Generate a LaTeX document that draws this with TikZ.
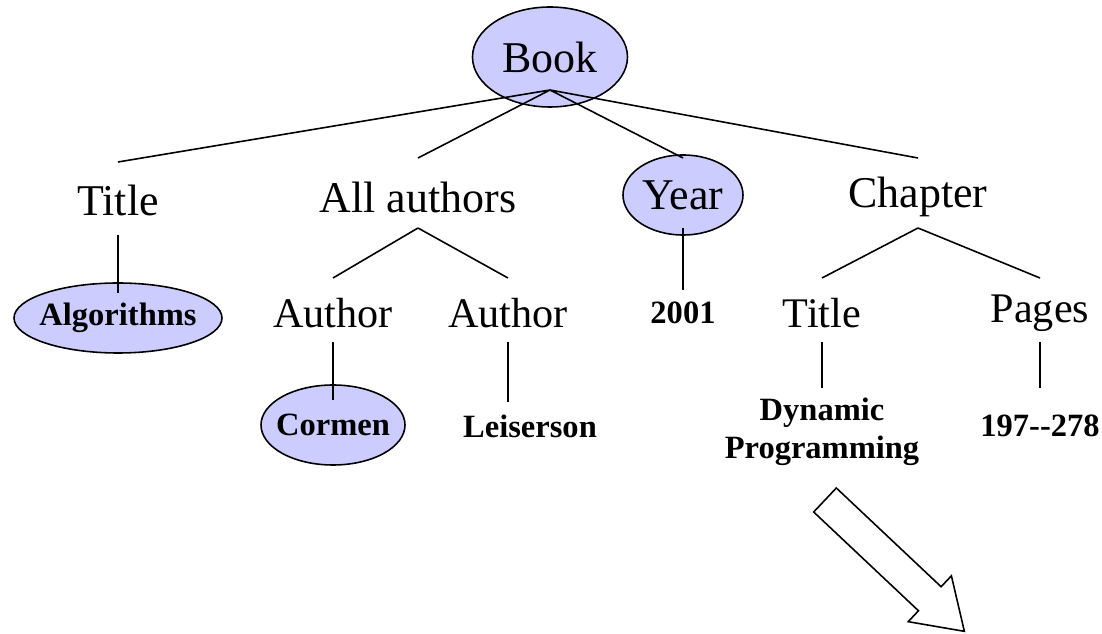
\documentclass[tikz,border=0pt]{standalone}
\usepackage{fontspec}
\setmainfont{Liberation Serif}
\usepackage{tikz}
\usetikzlibrary{shapes.geometric}
\definecolor{lavanda}{RGB}{204,204,255}
\tikzset{
  elipse/.style={ellipse,draw,fill=lavanda,line width=0.9pt,inner sep=0pt},
  grande/.style={font=\fontsize{25}{30}\selectfont},
  medio/.style={font=\fontsize{24}{28}\selectfont},
  negrita/.style={font=\fontsize{18.5}{21.5}\selectfont\bfseries,align=center},
  rama/.style={line width=0.9pt}
}

\begin{document}
\begin{tikzpicture}
\useasboundingbox (0,0) rectangle (22.04,-12.68);
%primer nivel
\path (11.0,-1.14) node(book)[elipse,grande,minimum width=3.1cm,minimum height=2cm]{Book}
(2.36,-4.0) node(titulo)[grande]{Title}
(8.36,-3.94) node(autores)[grande]{All authors}
(13.66,-3.9) node(anio)[elipse,grande,minimum width=2.4cm,minimum height=1.6cm]{Year}
(18.36,-3.94) node(capitulo)[grande]{Chapter};
%segundo nivel
\path (2.36,-6.36) node(algoritmos)[elipse,negrita,inner xsep=-0.17cm,minimum width=4.16cm,minimum height=1.4cm]{Algorithms}
(6.66,-6.26) node(autor1)[medio]{Author}
(10.16,-6.26) node(autor2)[medio]{Author}
(13.66,-6.26) node(dosmil)[negrita]{2001}
(16.44,-6.26) node(titulo2)[medio]{Title}
(20.8,-6.26) node(paginas)[medio]{Pages};
%tercer nivel
\path (6.66,-8.5) node(cormen)[elipse,negrita,inner xsep=-0.15cm,minimum width=2.88cm,minimum height=1.6cm]{Cormen}
(10.6,-8.52) node(leiserson)[negrita]{Leiserson}
(16.44,-8.64) node(dinamica)[negrita]{Dynamic\\Programming}
(20.8,-8.52) node(rango)[negrita]{197{-}{-}278};
%ramas
\draw[rama] ([yshift=-0.66cm]book.center) -- ([yshift=0.76cm]titulo.center)
([yshift=-0.66cm]book.center) -- ([yshift=0.78cm]autores.center)
([yshift=-0.66cm]book.center) -- ([yshift=0.74cm]anio.center)
([yshift=-0.66cm]book.center) -- ([yshift=0.78cm]capitulo.center);
\draw[rama] ([yshift=-0.7cm]titulo.center) -- ([yshift=0.5cm]algoritmos.center);
\draw[rama] ([yshift=-0.62cm]autores.center) -- ([yshift=0.7cm]autor1.center)
([yshift=-0.62cm]autores.center) -- ([yshift=0.7cm]autor2.center);
\draw[rama] ([yshift=-0.58cm]autor1.center) -- ([yshift=0.5cm]cormen.center);
\draw[rama] ([yshift=-0.58cm]autor2.center) -- ([yshift=-1.78cm]autor2.center);
\draw[rama] ([yshift=-0.66cm]anio.center) -- ([yshift=0.46cm]dosmil.center);
\draw[rama] ([yshift=-0.62cm]capitulo.center) -- ([yshift=0.7cm]titulo2.center)
([yshift=-0.62cm]capitulo.center) -- ([yshift=0.7cm]paginas.center);
\draw[rama] ([yshift=-0.58cm]titulo2.center) -- ([yshift=0.88cm]dinamica.center);
\draw[rama] ([yshift=-0.58cm]paginas.center) -- ([yshift=0.76cm]rango.center);
%flecha hueca
\begin{scope}[shift={(16.5,-10.0)},rotate=-43.3]
\draw[rama] (0,0.33) -- (2.88,0.33) -- (2.88,0.63) -- (3.83,0) -- (2.88,-0.63) -- (2.88,-0.33) -- (0,-0.33) -- cycle;
\end{scope}
\end{tikzpicture}
\end{document}
